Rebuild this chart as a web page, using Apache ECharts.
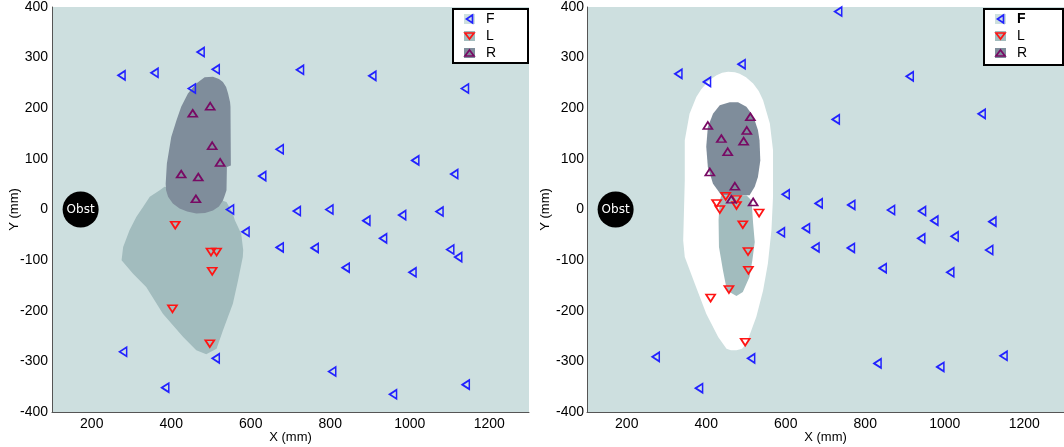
<!DOCTYPE html>
<html>
<head>
<meta charset="utf-8">
<script src="https://cdn.jsdelivr.net/npm/echarts@6/dist/echarts.min.js"></script>
<style>
html, body { margin: 0; padding: 0; background: #fff; }
#chart { width: 1064px; height: 447px; }
</style>
</head>
<body>
<div id="chart"></div>
<script>
// 数据：左图
var leftF = [[275,265],[358,270],[474,311],[512,277],[452,239],[724,276],[906,264],[1139,239],[673,119],[629,66],[1014,97],[1112,70],[548,0],[716,-3],[798,0],[891,-22],[981,-11],[1075,-4],[587,-44],[673,-75],[761,-76],[933,-57],[1102,-79],[1122,-94],[839,-115],[1007,-124],[279,-281],[512,-294],[385,-352],[805,-320],[958,-365],[1141,-346]];
var leftL = [[410,-31],[500,-84],[514,-84],[503,-122],[403,-196],[497,-265]];
var leftR = [[498,204],[454,190],[503,126],[523,93],[425,70],[468,64],[462,21]];

// 数据：右图
var rightF = [[732,391],[330,268],[402,252],[489,287],[912,263],[726,178],[1093,189],[600,30],[683,12],[765,9],[865,-1],[943,-3],[974,-22],[1120,-24],[588,-45],[651,-37],[675,-75],[764,-76],[941,-57],[1025,-53],[1112,-80],[844,-116],[1014,-124],[273,-291],[513,-294],[382,-353],[831,-304],[989,-311],[1148,-289]];
var rightL = [[449,26],[426,12],[434,0],[476,20],[476,8],[533,-7],[492,-30],[505,-83],[506,-120],[457,-158],[411,-175],[498,-262]];
var rightR = [[511,183],[404,166],[502,156],[438,140],[494,135],[454,114],[409,74],[472,46],[463,20],[518,15]];

// 区域边界
var leftRegionL = [[383,45],[371,38],[346,25],[329,5],[312,-15],[295,-41],[279,-74],[275,-100],[304,-127],[337,-153],[379,-206],[430,-252],[463,-278],[488,-286],[514,-275],[530,-239],[555,-186],[568,-140],[580,-94],[581,-80],[576,-48],[560,-21],[555,-8],[539,15],[500,25],[440,35]];
var leftRegionR = [[505,262],[520,258],[530,252],[538,242],[543,229],[548,212],[549,203],[550,87],[540,84],[539,38],[534,26],[530,18],[520,6],[505,-2],[485,-7],[463,-8],[440,-4],[421,2],[404,12],[392,25],[387,38],[386,51],[389,91],[400,143],[413,176],[425,203],[442,229],[463,249],[484,261]];
var rightRegionW = [[455,272],[472,271],[484,268],[500,261],[518,249],[532,234],[543,216],[560,170],[568,117],[568,25],[564,-41],[555,-107],[543,-160],[526,-212],[501,-265],[490,-275],[476,-278],[462,-278],[451,-275],[430,-252],[400,-206],[371,-146],[346,-94],[342,-61],[346,58],[346,137],[358,189],[375,222],[387,237],[400,249],[412,258],[426,265],[440,270]];
var rightRegionR = [[459,212],[480,212],[501,203],[512,191],[522,176],[530,157],[534,137],[536,97],[530,64],[522,45],[509,28],[438,28],[417,51],[404,84],[400,124],[404,163],[417,189],[434,206]];
var rightRegionL = [[438,28],[501,28],[514,18],[518,-28],[522,-64],[516,-100],[509,-133],[492,-163],[476,-171],[452,-160],[442,-120],[432,-74],[431,-21],[434,18]];

var obst = [[172, 0]];
var legendNames = ['F', 'L', 'R'];

var bgColor = '#cddfdf';
var midColor = '#a2bcbe';
var darkColor = '#7f8d9b';
var markColors = ['#2222ff', '#ff1414', '#780a64'];
var font = 'Liberation Sans, Arial, sans-serif';

var myChart = echarts.init(document.getElementById('chart'));

function xAx(gi) {
	return {
		type: 'value', gridIndex: gi, min: 100, max: 1300, interval: 100,
		name: 'X (mm)', nameLocation: 'middle', nameGap: 19, nameMoveOverlap: false,
		nameTextStyle: { fontSize: 13, color: '#000', fontFamily: font },
		axisLine: { onZero: false, lineStyle: { color: '#555' } },
		axisTick: { show: false },
		splitLine: { show: false },
		axisLabel: {
			color: '#000', fontSize: 14, fontFamily: font, margin: 5,
			formatter: function (v) { return v % 200 === 0 ? v : ''; }
		}
	};
}

function yAx(gi, gap, margin) {
	return {
		type: 'value', gridIndex: gi, min: -400, max: 400, interval: 100,
		name: 'Y (mm)', nameLocation: 'middle', nameGap: gap, nameMoveOverlap: false,
		nameTextStyle: { fontSize: 13, color: '#000', fontFamily: font },
		axisLine: { show: true, onZero: false, lineStyle: { color: '#555' } },
		axisTick: { show: false },
		splitLine: { show: false },
		axisLabel: { color: '#000', fontSize: 14, fontFamily: font, margin: margin }
	};
}

function region(gi, pts, color) {
	return {
		type: 'custom', xAxisIndex: gi, yAxisIndex: gi, silent: true, clip: true,
		data: [[0, 0]],
		renderItem: function (params, api) {
			return {
				type: 'polygon',
				shape: { points: pts.map(function (q) { return api.coord(q); }) },
				style: { fill: color }
			};
		}
	};
}

function marks(gi, name, data, idx) {
	var rot = [90, 180, 0][idx];
	return {
		type: 'scatter', name: name, xAxisIndex: gi, yAxisIndex: gi,
		data: data, symbol: 'triangle', symbolSize: [9, 7], symbolRotate: rot,
		itemStyle: { color: 'rgba(0,0,0,0)', borderColor: markColors[idx], borderWidth: 1.7, opacity: 1 }
	};
}

function obstSeries(gi) {
	return {
		type: 'scatter', xAxisIndex: gi, yAxisIndex: gi, data: obst,
		symbol: 'circle', symbolSize: 36,
		itemStyle: { color: '#000', opacity: 1 },
		label: { show: true, position: 'inside', formatter: 'Obst', color: '#fff', fontSize: 12, fontFamily: 'DejaVu Sans' }
	};
}

function triPts(i, cx, cy) {
	if (i === 0) return [[cx + 3, cy - 4], [cx - 3, cy], [cx + 3, cy + 4]];
	if (i === 1) return [[cx - 4.5, cy - 3], [cx + 4.5, cy - 3], [cx, cy + 3]];
	return [[cx - 4.5, cy + 3], [cx + 4.5, cy + 3], [cx, cy - 3]];
}

function legendGroup(x, y, w, h, boldF) {
	var swatch = [bgColor, midColor, darkColor];
	var kids = [{
		type: 'rect', shape: { x: 0, y: 0, width: w, height: h },
		style: { fill: '#fff', stroke: '#000', lineWidth: 2 }
	}];
	legendNames.forEach(function (n, i) {
		var cy = 10 + i * 17;
		kids.push({ type: 'rect', shape: { x: 11, y: cy - 5, width: 11, height: 10 }, style: { fill: swatch[i] } });
		kids.push({ type: 'polygon', shape: { points: triPts(i, 16.5, cy) }, style: { fill: 'none', stroke: markColors[i], lineWidth: 1.7 } });
		kids.push({
			type: 'text', x: 33, y: cy,
			style: { text: n, fontSize: 14, fontFamily: font, fill: '#000', verticalAlign: 'middle', fontWeight: (boldF && i === 0) ? 'bold' : 'normal' }
		});
	});
	return { type: 'group', left: x, top: y, children: kids, z: 10 };
}

option = {
	animation: false,
	grid: [
		{ left: 52, top: 7, width: 477, height: 405, show: true, backgroundColor: bgColor, borderWidth: 0, outerBoundsMode: 'none' },
		{ left: 587, top: 7, width: 477, height: 405, show: true, backgroundColor: bgColor, borderWidth: 0, outerBoundsMode: 'none' }
	],
	xAxis: [xAx(0), xAx(1)],
	yAxis: [yAx(0, 31, 4), yAx(1, 35, 3)],
	series: [
		region(0, leftRegionL, midColor),
		region(0, leftRegionR, darkColor),
		marks(0, 'F', leftF, 0),
		marks(0, 'L', leftL, 1),
		marks(0, 'R', leftR, 2),
		obstSeries(0),
		region(1, rightRegionW, '#ffffff'),
		region(1, rightRegionR, darkColor),
		region(1, rightRegionL, midColor),
		marks(1, 'F', rightF, 0),
		marks(1, 'L', rightL, 1),
		marks(1, 'R', rightR, 2),
		obstSeries(1)
	],
	graphic: [
		legendGroup(452, 8, 75, 54, false),
		legendGroup(983, 8, 79, 56, true)
	]
};

myChart.setOption(option);
</script>
</body>
</html>
